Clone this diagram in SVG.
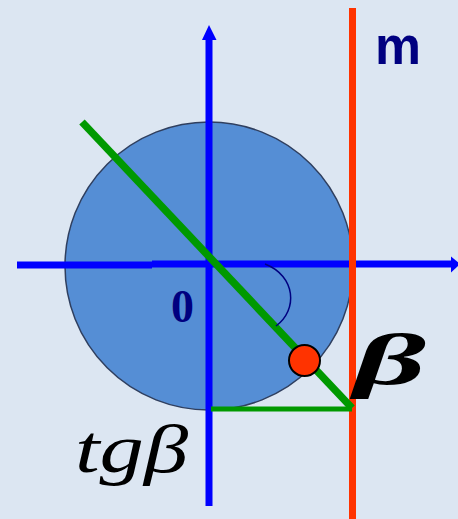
<svg xmlns="http://www.w3.org/2000/svg" width="458" height="519" viewBox="0 0 458 519">
<defs>
<style>
.axis{stroke:#0000ff;stroke-width:7;fill:none}
.green{stroke:#009900;fill:none}
.lbl{font-family:"Liberation Serif",serif}
</style>
</defs>
<rect width="458" height="519" fill="#dce6f2"/>
<g id="circle">
<circle cx="209" cy="266" r="144" fill="#558ed5" stroke="#2f3f5f" stroke-width="1.5"/>
</g>
<g id="axes">
<line class="axis" x1="17" y1="265" x2="152" y2="265" stroke-width="6.5"/>
<line class="axis" x1="152" y1="264" x2="452" y2="264" stroke-width="6"/>
<polygon points="451,256.5 460,264 451,272.5" fill="#0000ff"/>
<line class="axis" x1="209" y1="506" x2="209" y2="38" stroke-width="8"/>
<polygon points="202,40 209,25 216.5,40" fill="#0000ff"/>
</g>
<g id="connectors">
<line id="line-m" x1="352.5" y1="8" x2="352.5" y2="519" stroke="#ff3300" stroke-width="7"/>
<line class="green" x1="82" y1="122" x2="352" y2="408" stroke-width="7.5"/>
<line class="green" x1="211" y1="409" x2="352" y2="409" stroke-width="5"/>
<path d="M265,264 C296,276 298,310 276,326" fill="none" stroke="#000080" stroke-width="1.5"/>
</g>
<g id="point">
<circle cx="304.5" cy="360.5" r="15.5" fill="#ff3300" stroke="#000" stroke-width="2"/>
</g>
<g id="labels">
<text x="375" y="64" font-family="Liberation Sans,Arial,sans-serif" font-weight="bold" font-size="54" textLength="46" lengthAdjust="spacingAndGlyphs" fill="#000080">m</text>
<text x="171" y="322" class="lbl" font-weight="bold" font-size="46" fill="#000080">0</text>
<text x="354" y="384" class="lbl" font-weight="bold" font-style="italic" font-size="72" textLength="72" lengthAdjust="spacingAndGlyphs" fill="#000">β</text>
<text x="75" y="472" class="lbl" font-style="italic" font-size="68" textLength="113" lengthAdjust="spacingAndGlyphs" fill="#000">tgβ</text>
</g>
</svg>
